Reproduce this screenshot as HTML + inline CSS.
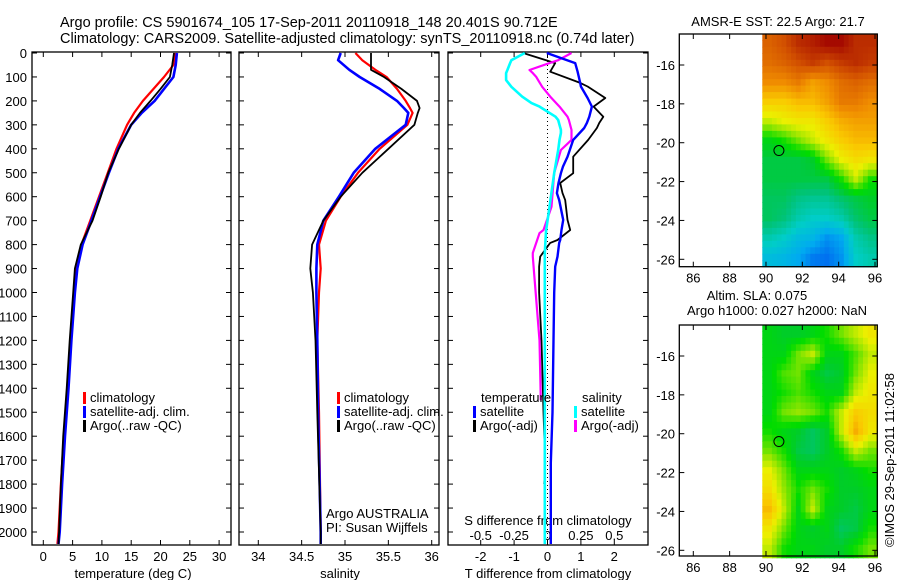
<!DOCTYPE html>
<html><head><meta charset="utf-8"><style>
html,body{margin:0;padding:0;background:#fff}
svg{display:block;font-family:"Liberation Sans",sans-serif}
text{font-size:13px;fill:#000}
</style></head><body>
<svg id="fig" width="900" height="580" viewBox="0 0 900 580">
<text x="60" y="27" style="font-size:14.5px">Argo profile: CS 5901674_105 17-Sep-2011 20110918_148 20.401S 90.712E</text>
<text x="60" y="43" style="font-size:14.5px">Climatology: CARS2009. Satellite-adjusted climatology: synTS_20110918.nc (0.74d later)</text>
<g id="g"></g>
</svg>
<script>
// ---------- data ----------
const depthT = [0,50,100,150,200,250,300,400,500,600,700,800,900,1000,1200,1400,1600,1800,2000,2050];
const tempClim = [22.5,22.2,20.6,18.8,17.0,15.5,14.3,12.5,11.0,9.5,8.0,6.5,5.6,5.2,4.6,4.1,3.5,3.0,2.6,2.4];
const tempSat = [22.8,22.6,22.2,20.6,19.0,16.8,15.0,12.8,11.2,9.7,8.2,6.7,5.8,5.4,4.8,4.3,3.7,3.2,2.8,2.6];
const tempArgo = [22.3,22.0,21.6,20.0,18.3,16.5,15.0,12.9,11.1,9.8,8.4,6.4,5.4,5.1,4.5,4.0,3.4,3.0,2.7,2.6];
const depthS = [0,30,70,100,150,200,230,250,300,400,500,600,700,800,900,1000,1200,1500,2000,2050];
const salClim = [35.12,35.2,35.35,35.48,35.6,35.7,35.75,35.78,35.72,35.4,35.15,34.95,34.78,34.7,34.72,34.7,34.68,34.7,34.72,34.72];
const salSat = [34.95,34.92,35.05,35.17,35.4,35.6,35.68,35.73,35.7,35.35,35.1,34.93,34.75,34.68,34.67,34.67,34.68,34.69,34.72,34.72];
const salArgo = [35.3,35.3,35.3,35.45,35.65,35.83,35.86,35.84,35.8,35.5,35.2,34.95,34.75,34.62,34.6,34.63,34.66,34.68,34.72,34.72];
const dDepthT = [0,42,78,125,140,188,224,266,292,313,363,433,475,502,543,585,614,697,739,781,793,850,892,1000,1200,1500,1712,1800,2000,2050];
const dTempSat = [-0.02,0.83,0.9,0.98,1.0,1.2,1.33,1.25,1.18,1.1,0.77,0.6,0.46,0.4,0.33,0.28,0.35,0.47,0.42,0.38,0.35,0.3,0.23,0.2,0.18,0.15,0.1,0.1,0.1,0.1];
const dTempArgo = [-0.73,0.23,0.08,0.98,1.2,1.73,1.38,1.67,1.55,1.48,1.22,0.77,0.77,0.77,0.38,0.45,0.53,0.6,0.68,0.3,0.08,-0.22,-0.25,-0.25,-0.18,-0.12,-0.07,-0.1,null,null];
const dDepthS = [0,30,42,71,84,99,113,141,182,209,224,266,280,321,334,363,405,501,642,739,752,835,850,919,1200,1450,1600,2000,2050];
const dSalSat = [-0.17,-0.27,-0.28,-0.3,-0.31,-0.31,-0.31,-0.27,-0.19,-0.12,-0.06,0.06,0.08,0.1,0.1,0.09,0.08,0.05,0.015,-0.01,-0.012,-0.02,-0.02,-0.02,-0.02,-0.02,-0.02,-0.02,-0.02];
const dSalArgo = [0.18,0.08,0.015,-0.135,-0.11,-0.085,-0.07,-0.04,0.02,0.065,0.09,0.15,0.16,0.18,0.18,0.18,0.1,0.05,0.03,-0.03,-0.06,-0.11,-0.11,-0.1,-0.06,-0.05,null,null,null];
const depthTicks = [0,100,200,300,400,500,600,700,800,900,1000,1100,1200,1300,1400,1500,1600,1700,1800,1900,2000];
const tempTicks = [0,5,10,15,20,25,30];
const salTicks = [34,34.5,35,35.5,36];
const tdTicks = [-2,-1,0,1,2];
const sdTicks = [-0.5,-0.25,0,0.25,0.5];
const sdTickLabels = ['-0.5','-0.25','0','0.25','0.5'];
const lonTicks = [86,88,90,92,94,96];
const latTicks = [-16,-18,-20,-22,-24,-26];
const sstGrid = [
[0.82,0.85,0.9,0.92,0.95,0.95,0.9,0.9],
[0.8,0.82,0.85,0.88,0.85,0.88,0.9,0.88],
[0.75,0.75,0.78,0.72,0.75,0.8,0.82,0.8],
[0.65,0.65,0.68,0.68,0.72,0.78,0.78,0.75],
[0.55,0.58,0.6,0.6,0.65,0.7,0.72,0.72],
[0.42,0.45,0.5,0.55,0.6,0.65,0.68,0.68],
[0.38,0.38,0.38,0.4,0.5,0.58,0.62,0.6],
[0.38,0.38,0.38,0.38,0.38,0.45,0.55,0.45],
[0.36,0.36,0.33,0.32,0.32,0.35,0.38,0.4],
[0.36,0.34,0.3,0.28,0.28,0.3,0.35,0.38],
[0.3,0.28,0.25,0.24,0.2,0.22,0.3,0.33],
[0.25,0.24,0.22,0.18,0.17,0.2,0.28,0.3]];
const slaGrid = [
[0.42,0.4,0.4,0.42,0.45,0.5,0.55,0.6],
[0.42,0.42,0.5,0.55,0.42,0.42,0.48,0.55],
[0.42,0.48,0.5,0.42,0.38,0.4,0.5,0.58],
[0.42,0.45,0.48,0.45,0.42,0.42,0.55,0.6],
[0.42,0.5,0.52,0.5,0.45,0.55,0.65,0.62],
[0.45,0.42,0.4,0.36,0.4,0.55,0.7,0.6],
[0.5,0.45,0.38,0.36,0.4,0.45,0.55,0.5],
[0.58,0.5,0.42,0.42,0.42,0.4,0.42,0.45],
[0.62,0.52,0.45,0.5,0.45,0.4,0.4,0.42],
[0.68,0.55,0.42,0.55,0.42,0.4,0.38,0.42],
[0.6,0.5,0.42,0.4,0.42,0.36,0.38,0.45],
[0.55,0.45,0.42,0.42,0.4,0.4,0.45,0.5]];
const argoLon = 90.712, argoLat = -20.401;

// ---------- helpers ----------
const NS='http://www.w3.org/2000/svg';
const G=document.getElementById('g');
function el(t,a,p){const e=document.createElementNS(NS,t);for(const k in a)e.setAttribute(k,a[k]);(p||G).appendChild(e);return e;}
function txt(x,y,s,anchor,p,size){const e=el('text',{x:x,y:y,'text-anchor':anchor||'start'},p);if(size)e.style.fontSize=size+'px';e.textContent=s;return e;}
const yD = d => 53 + d*0.2395;
const xT = v => 43.3 + v*5.86;
const xS = v => 258.3 + (v-34)*86.7;
const xTd = v => 547.5 + v*33.4;
const xSd = v => 547.5 + v*133.6;

function line(depths, vals, xf, color, name, w){
  let d='';let pen=false;
  for(let i=0;i<depths.length;i++){
    if(vals[i]===null||vals[i]===undefined){pen=false;continue;}
    d+=(pen?'L':'M')+xf(vals[i]).toFixed(1)+' '+yD(depths[i]).toFixed(1)+' ';pen=true;
  }
  const p=el('path',{d:d,fill:'none',stroke:color,'stroke-width':w||2.2,'stroke-linejoin':'round'});
  
  
  return p;
}
function frame(x0,x1,y0,y1,name){
  const r=el('rect',{x:x0,y:y0,width:x1-x0,height:y1-y0,fill:'none',stroke:'#000','stroke-width':1.3});
  
  
}
function xticks(ticks,xf,y0,y1,labels,ly,name){
  ticks.forEach((t,i)=>{
    el('line',{x1:xf(t),x2:xf(t),y1:y1,y2:y1-5,stroke:'#000'});
    el('line',{x1:xf(t),x2:xf(t),y1:y0,y2:y0+5,stroke:'#000'});
    if(labels){const e=txt(xf(t),ly,labels[i],'middle');
      
      }
  });
}
function yticks(x0,x1){
  depthTicks.forEach(d=>{
    el('line',{x1:x0,x2:x0+5,y1:yD(d),y2:yD(d),stroke:'#000'});
    el('line',{x1:x1,x2:x1-5,y1:yD(d),y2:yD(d),stroke:'#000'});
  });
}
function legendItem(mx,y,color,label,name){
  el('rect',{x:mx,y:y-10,width:3,height:12,fill:color});
  const e=txt(mx+7,y,label,'start');
  
  
}

const TOP=52,BOT=545;
// Panel 1
frame(32,231,TOP,BOT,'temperature-panel');
yticks(32,231);
depthTicks.forEach(d=>{const e=txt(27,yD(d)+5,String(d),'end');
  
  });
xticks(tempTicks,xT,TOP,BOT,tempTicks.map(String),561,'temperature');
{const e=txt(133,578,'temperature (deg C)','middle');}
line(depthT,tempClim,xT,'#ff0000','temp-climatology-line');
line(depthT,tempSat,xT,'#0000ff','temp-satellite-line',2.6);
line(depthT,tempArgo,xT,'#000000','temp-argo-line',1.8);
legendItem(83,402,'#f00','climatology','legend-climatology');
legendItem(83,416,'#00f','satellite-adj. clim.','legend-satellite');
legendItem(83,430,'#000','Argo(..raw -QC)','legend-argo');

// Panel 2
frame(239,439,TOP,BOT,'salinity-panel');
yticks(239,439);
xticks(salTicks,xS,TOP,BOT,salTicks.map(String),561,'salinity');
{const e=txt(340,578,'salinity','middle');}
line(depthS,salClim,xS,'#ff0000','sal-climatology-line');
line(depthS,salSat,xS,'#0000ff','sal-satellite-line',2.6);
line(depthS,salArgo,xS,'#000000','sal-argo-line',1.8);
legendItem(337,402,'#f00','climatology','legend-climatology-2');
legendItem(337,416,'#00f','satellite-adj. clim.','legend-satellite-2');
legendItem(337,430,'#000','Argo(..raw -QC)','legend-argo-2');
{let e=txt(326,518,'Argo AUSTRALIA','start');
 e=txt(326,532,'PI: Susan Wijffels','start');}

// Panel 3
frame(448,648,TOP,BOT,'difference-panel');
yticks(448,648);
xticks(sdTicks,xSd,TOP,BOT,null,0,'sdiff');
tdTicks.forEach(t=>{const e=txt(xTd(t),561,String(t),'middle');});
sdTicks.forEach((t,i)=>{const e=txt(xSd(t),540,sdTickLabels[i],'middle');});
{let e=txt(548,525,'S difference from climatology','middle');
 e=txt(548,578,'T difference from climatology','middle');}
el('line',{x1:xTd(0),x2:xTd(0),y1:yD(0),y2:yD(2050),stroke:'#000','stroke-dasharray':'1 3'});
line(dDepthT,dTempArgo,xTd,'#000000','tdiff-argo-line',1.8);
line(dDepthS,dSalArgo,xSd,'#ff00ff','sdiff-argo-line');
line(dDepthT,dTempSat,xTd,'#0000ff','tdiff-satellite-line',2.4);
line(dDepthS,dSalSat,xSd,'#00ffff','sdiff-satellite-line',2.6);
{const e=txt(481,402,'temperature','start');}
{const e=txt(582,402,'salinity','start');}
legendItem(473,416,'#00f','satellite','legend-t-satellite');
legendItem(473,430,'#000','Argo(-adj)','legend-t-argo');
legendItem(574,416,'#00ffff','satellite','legend-s-satellite');
legendItem(574,430,'#ff00ff','Argo(-adj)','legend-s-argo');

// ---------- maps ----------
const stops=[[0.15,[0,90,240]],[0.22,[0,170,240]],[0.28,[0,205,200]],[0.34,[0,195,120]],[0.4,[0,205,40]],[0.44,[0,220,0]],[0.52,[150,230,0]],[0.58,[235,240,0]],[0.66,[250,200,0]],[0.75,[240,140,0]],[0.85,[210,80,0]],[0.95,[165,10,0]]];
function cmap(v){
  if(v<=stops[0][0])return 'rgb('+stops[0][1]+')';
  for(let i=1;i<stops.length;i++){if(v<=stops[i][0]){const a=stops[i-1],b=stops[i],f=(v-a[0])/(b[0]-a[0]);
    return 'rgb('+a[1].map((c,k)=>Math.round(c+(b[1][k]-c)*f)).join(',')+')';}}
  return 'rgb('+stops[stops.length-1][1]+')';
}
// bilinear sample of the grid at fractional cell coordinates (for smooth display)
function sample(grid,fr,fc){
  const nr=grid.length,nc=grid[0].length;
  const r=Math.max(0,Math.min(nr-1,fr-0.5)), c=Math.max(0,Math.min(nc-1,fc-0.5));
  const r0=Math.floor(r),c0=Math.floor(c),r1=Math.min(nr-1,r0+1),c1=Math.min(nc-1,c0+1);
  const a=r-r0,b=c-c0;
  return grid[r0][c0]*(1-a)*(1-b)+grid[r0][c1]*(1-a)*b+grid[r1][c0]*a*(1-b)+grid[r1][c1]*a*b;
}
function map(top,bottom,grid,name){
  const xL=lon=>693.3+(lon-86)*18.17;
  const lat16=top+31, yL=lat=>lat16+(-16-lat)*19.43;
  const g=el('g',{});
  
  
  const lon0=89.8, lon1=96.13, latT=-14.4, latB=-26.38;
  const nr=grid.length, nc=grid[0].length, S=3;
  const dlon=(lon1-lon0)/(nc*S), dlat=(latT-latB)/(nr*S);
  for(let r=0;r<nr*S;r++)for(let c=0;c<nc*S;c++){
    const v=sample(grid,(r+0.5)/S,(c+0.5)/S);
    const x0=xL(lon0+c*dlon), x1=xL(lon0+(c+1)*dlon), y0=yL(latT-r*dlat), y1=yL(latT-(r+1)*dlat);
    const cell=el('rect',{x:x0.toFixed(1),y:y0.toFixed(1),width:(x1-x0+0.6).toFixed(1),height:(y1-y0+0.6).toFixed(1),fill:cmap(v)},g);
    
    
  }
  const fr=el('rect',{x:679.3,y:top,width:198,height:bottom-top,fill:'none',stroke:'#000','stroke-width':1.3},g);
  
  
  lonTicks.forEach(l=>{
    el('line',{x1:xL(l),x2:xL(l),y1:bottom,y2:bottom-5,stroke:'#000'},g);
    el('line',{x1:xL(l),x2:xL(l),y1:top,y2:top+5,stroke:'#000'},g);
    const e=txt(xL(l),bottom+16,String(l),'middle',g);
    
    
  });
  latTicks.forEach(l=>{
    el('line',{x1:679.3,x2:684.3,y1:yL(l),y2:yL(l),stroke:'#000'},g);
    el('line',{x1:877.3,x2:872.3,y1:yL(l),y2:yL(l),stroke:'#000'},g);
    const e=txt(675,yL(l)+5,String(l),'end',g);
    
    
  });
  const c=el('circle',{cx:xL(argoLon),cy:yL(argoLat),r:5,fill:'none',stroke:'#000','stroke-width':1},g);
  
  
}
map(34,266.7,sstGrid,'sst-map');
map(325,556,slaGrid,'sla-map');
{let e=txt(778,26,'AMSR-E SST: 22.5 Argo: 21.7','middle');
 e=txt(757,300,'Altim. SLA: 0.075','middle');
 e=txt(777,315,'Argo h1000: 0.027 h2000: NaN','middle');
 e=txt(0,0,'©IMOS 29-Sep-2011 11:02:58','middle');e.setAttribute('transform','translate(894,460) rotate(-90)');
 }
</script>
</body></html>
